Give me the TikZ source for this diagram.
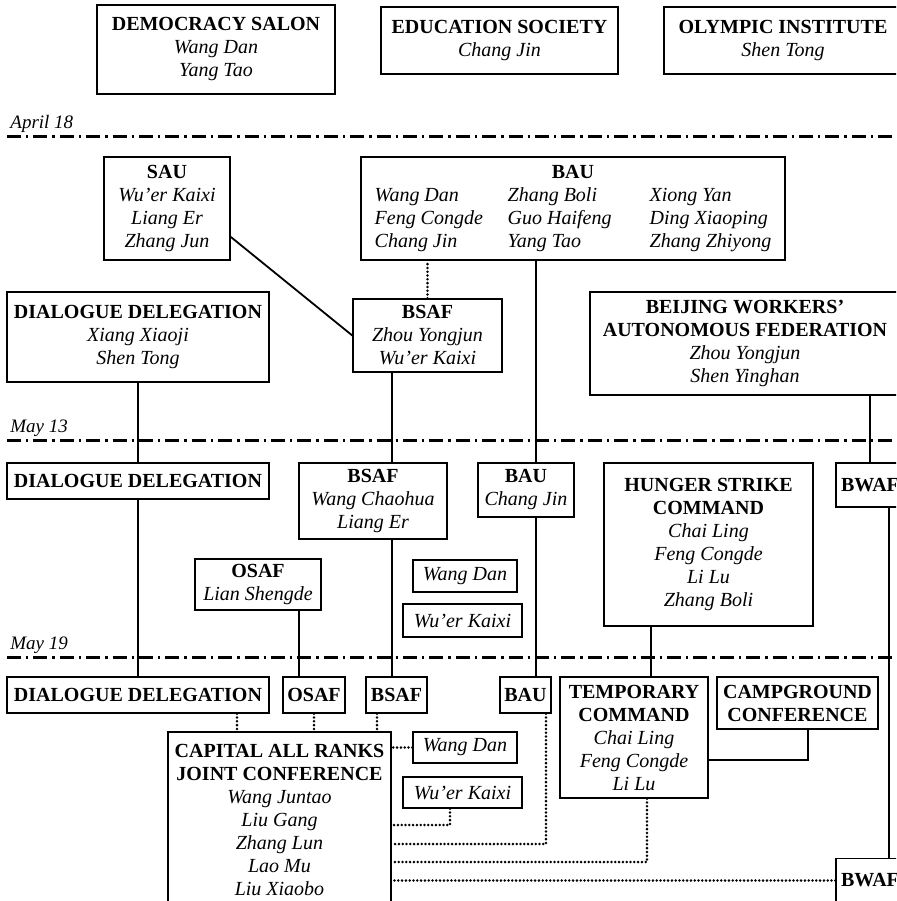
\documentclass[tikz,border=0pt]{standalone}
\usepackage{fontspec}
\setmainfont{Liberation Serif}
\usepackage{tikz}

\begin{document}
\begin{tikzpicture}[x=0.5pt, y=-0.5pt,
    every node/.style={font=\fontsize{10}{11.5}\selectfont},
    org/.style={draw, line width=0.7pt, align=center, inner sep=2pt},
    link/.style={line width=0.9pt},
    tie/.style={line width=1.4pt, line cap=round, dash pattern=on 0pt off 1.9pt},
    dateline/.style={line width=1.5pt, dash pattern=on 7pt off 2.5pt on 1.2pt off 2.5pt},
    datelabel/.style={anchor=base west, inner sep=0pt, font=\fontsize{9.5}{11}\selectfont\itshape}]
    \useasboundingbox (0,0) rectangle (896,901);
    \clip (0,0) rectangle (896,901);

    % dates
    \foreach \y/\d in {136/April 18, 440/May 13, 657/May 19} {
        \draw[dateline] (7,\y) -- (900,\y);
        \node[datelabel] (date\y) at (10,\y-8) {\d};
    }

    % before April 18
    \node[org, minimum width=119pt, minimum height=44.5pt] (salon) at (216,49.5)
        {\textbf{DEMOCRACY SALON}\\ \textit{Wang Dan}\\ \textit{Yang Tao}};
    \node[org, minimum width=118.5pt, minimum height=33.5pt] (edusoc) at (499.5,40.5)
        {\textbf{EDUCATION SOCIETY}\\ \textit{Chang Jin}};
    \node[org, minimum width=119pt, minimum height=33.5pt] (olympic) at (783,40.5)
        {\textbf{OLYMPIC INSTITUTE}\\ \textit{Shen Tong}};

    % April 18 to May 13
    \node[org, minimum width=63pt, minimum height=51.5pt] (sau) at (167,208.5)
        {\textbf{SAU}\\ \textit{Wu'er Kaixi}\\ \textit{Liang Er}\\ \textit{Zhang Jun}};
    \node[org, minimum width=212pt, minimum height=51.5pt, font=\fontsize{10}{11.5}\selectfont\itshape] (bau) at (573,208.5)
        {\begin{tabular}{@{}p{54.5pt}p{59pt}l@{}}
            \multicolumn{3}{c}{\upshape\bfseries BAU}\\
            Wang Dan & Zhang Boli & Xiong Yan\\
            Feng Congde & Guo Haifeng & Ding Xiaoping\\
            Chang Jin & Yang Tao & Zhang Zhiyong
        \end{tabular}};
    \node[org, minimum width=131pt, minimum height=45pt] (dd1) at (138,337)
        {\textbf{DIALOGUE DELEGATION}\\ \textit{Xiang Xiaoji}\\ \textit{Shen Tong}};
    \node[org, minimum width=74.5pt, minimum height=36.5pt] (bsaf1) at (427.5,335.5)
        {\textbf{BSAF}\\ \textit{Zhou Yongjun}\\ \textit{Wu'er Kaixi}};
    \node[org, minimum width=155pt, minimum height=51.5pt] (bwfed) at (745,343.5)
        {\textbf{BEIJING WORKERS'}\\ \textbf{AUTONOMOUS FEDERATION}\\ \textit{Zhou Yongjun}\\ \textit{Shen Yinghan}};

    % May 13 to May 19
    \node[org, minimum width=131pt, minimum height=18pt] (dd2) at (138,481) {\textbf{DIALOGUE DELEGATION}};
    \node[org, minimum width=74pt, minimum height=38pt] (bsaf2) at (373,501)
        {\textbf{BSAF}\\ \textit{Wang Chaohua}\\ \textit{Liang Er}};
    \node[org, minimum width=48pt, minimum height=27pt] (bau2) at (526,490)
        {\textbf{BAU}\\ \textit{Chang Jin}};
    \node[org, minimum width=104.5pt, minimum height=81.5pt] (hsc) at (708.5,544.5)
        {\textbf{HUNGER STRIKE}\\ \textbf{COMMAND}\\ \textit{Chai Ling}\\ \textit{Feng Congde}\\ \textit{Li Lu}\\ \textit{Zhang Boli}};
    \node[org, minimum width=34pt, minimum height=22pt] (bwaf1) at (870,485) {\textbf{BWAF}};
    \node[org, minimum width=63pt, minimum height=25.5pt] (osaf1) at (258,584.5)
        {\textbf{OSAF}\\ \textit{Lian Shengde}};
    \node[org, minimum width=52pt, minimum height=16pt] (wd1) at (465,576) {\textit{Wang Dan}};
    \node[org, minimum width=59.5pt, minimum height=16.5pt] (wk1) at (462.5,620.5) {\textit{Wu'er Kaixi}};

    % after May 19
    \node[org, minimum width=131pt, minimum height=18pt] (dd3) at (138,695) {\textbf{DIALOGUE DELEGATION}};
    \node[org, minimum width=31pt, minimum height=18pt] (osaf2) at (314,695) {\textbf{OSAF}};
    \node[org, minimum width=30.5pt, minimum height=18pt] (bsaf3) at (396.5,695) {\textbf{BSAF}};
    \node[org, minimum width=25.5pt, minimum height=18pt] (bau3) at (525.5,695) {\textbf{BAU}};
    \node[org, minimum width=74pt, minimum height=60.5pt] (temp) at (634,737.5)
        {\textbf{TEMPORARY}\\ \textbf{COMMAND}\\ \textit{Chai Ling}\\ \textit{Feng Congde}\\ \textit{Li Lu}};
    \node[org, minimum width=80.5pt, minimum height=26pt] (camp) at (797.5,703)
        {\textbf{CAMPGROUND}\\ \textbf{CONFERENCE}};
    \node[org, minimum width=111.5pt, minimum height=88pt] (carjc) at (279.5,820)
        {\textbf{CAPITAL ALL RANKS}\\ \textbf{JOINT CONFERENCE}\\ \textit{Wang Juntao}\\ \textit{Liu Gang}\\
         \textit{Zhang Lun}\\ \textit{Lao Mu}\\ \textit{Liu Xiaobo}};
    \node[org, minimum width=52pt, minimum height=15.5pt] (wd2) at (465,747.5) {\textit{Wang Dan}};
    \node[org, minimum width=59.5pt, minimum height=15.5pt] (wk2) at (462.5,792.5) {\textit{Wu'er Kaixi}};
    \node[org, minimum width=34pt, minimum height=22pt] (bwaf2) at (870,880.5) {\textbf{BWAF}};

    % tracks
    \coordinate (osaftrack) at (299,0);
    \coordinate (bsaftrack) at (392,0);
    \coordinate (bautrack) at (536,0);
    \coordinate (hsctrack) at (651,0);
    \coordinate (bwaftrack) at (889,0);
    \coordinate (campjoin) at (808,760);
    \coordinate (wkjoin) at (450,825);
    \coordinate (baujoin) at (546,844);
    \coordinate (tempjoin) at (647,862);

    % solid links
    \draw[link] (sau.-24) -- (bsaf1.west);
    \draw[link] (dd1.south) -- (dd2.north);
    \draw[link] (dd2.south) -- (dd3.north);
    \draw[link] (bsaf1.south -| bsaftrack) -- (bsaf2.north -| bsaftrack);
    \draw[link] (bsaf2.south -| bsaftrack) -- (bsaf3.north -| bsaftrack);
    \draw[link] (bau.south -| bautrack) -- (bau2.north -| bautrack);
    \draw[link] (bau2.south -| bautrack) -- (bau3.north -| bautrack);
    \draw[link] (bwaf1.north) -- (bwaf1.north |- bwfed.south);
    \draw[link] (bwaf1.south -| bwaftrack) -- (bwaf2.north -| bwaftrack);
    \draw[link] (osaf1.south -| osaftrack) -- (osaf2.north -| osaftrack);
    \draw[link] (hsc.south -| hsctrack) -- (temp.north -| hsctrack);
    \draw[link] (camp.south -| campjoin) -- (campjoin) -- (campjoin -| temp.east);

    % dotted ties
    \draw[tie] (bsaf1.north) -- (bsaf1.north |- bau.south);
    \draw[tie] ([xshift=49.5pt]dd3.south) -- ([xshift=49.5pt]dd3.south |- carjc.north);
    \draw[tie] (osaf2.south) -- (osaf2.south |- carjc.north);
    \draw[tie] ([xshift=-9.75pt]bsaf3.south) -- ([xshift=-9.75pt]bsaf3.south |- carjc.north);
    \draw[tie] (wd2.west) -- (wd2.west -| carjc.east);
    \draw[tie] (wk2.south -| wkjoin) -- (wkjoin) -- (wkjoin -| carjc.east);
    \draw[tie] (bau3.south -| baujoin) -- (baujoin) -- (baujoin -| carjc.east);
    \draw[tie] (temp.south -| tempjoin) -- (tempjoin) -- (tempjoin -| carjc.east);
    \draw[tie] (bwaf2.west) -- (bwaf2.west -| carjc.east);
\end{tikzpicture}
\end{document}
